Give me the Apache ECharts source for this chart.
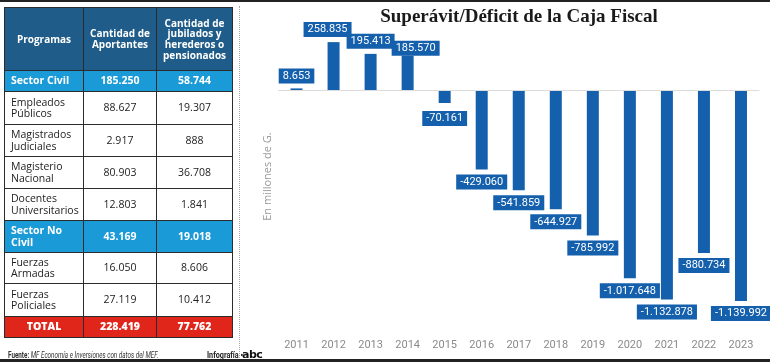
<!DOCTYPE html>
<html>
<head>
<meta charset="utf-8">
<script src="https://cdn.jsdelivr.net/npm/echarts@6/dist/echarts.min.js"></script>
<style>
  html, body { margin:0; padding:0; background:#fff; }
  #wrap { position:relative; width:770px; height:362px; overflow:hidden; background:#fff; }
  #chart { position:absolute; left:0; top:0; width:770px; height:362px; }
  .topline { position:absolute; left:0; top:0; width:770px; height:2px; background:#222; }
  .botline { position:absolute; left:0; top:359px; width:770px; height:3px; background:#222; }
  .vsep { position:absolute; left:239px; top:6px; height:352px; border-left:1px dotted #a8a8a8; }
  table { position:absolute; left:4px; top:7px; border-collapse:collapse; width:228px;
          font-family:"Open Sans", "Liberation Sans", sans-serif; font-size:10.5px; color:#222; table-layout:fixed; }
  td { border:1.5px solid #2b2b2b; padding:0 6px; line-height:11.5px; text-align:center; font-weight:500; }
  td.l { text-align:left; }
  tr.hd td { background:#1f5c89; color:#fff; font-weight:700; height:62px; line-height:10.7px; font-size:10px; padding:0 4px; }
  tr.sec td { background:#1b9ad8; color:#fff; font-weight:700; font-size:10.5px; }
  tr.tot td { background:#e0261b; color:#fff; font-weight:800; font-size:10.5px; }
  .foot { position:absolute; left:8px; top:350px; font-family:Roboto, "Liberation Sans", sans-serif; font-size:9px; color:#333;
          transform:scaleX(0.7); transform-origin:left; white-space:nowrap; }
  .foot b { font-weight:700; }
  .foot i { font-style:italic; }
  .info { position:absolute; left:207px; top:350px; font-family:Roboto, "Liberation Sans", sans-serif; font-size:9px; font-weight:700; color:#222;
          transform:scaleX(0.8); transform-origin:left; white-space:nowrap; }
  .logo { position:absolute; left:242px; top:348px; font-family:"DejaVu Sans", sans-serif; font-size:11px; font-weight:900; color:#111; letter-spacing:-0.5px; }
</style>
</head>
<body>
<div id="wrap">
  <div id="chart"></div>
  <div class="topline"></div>
  <div class="botline"></div>
  <div class="vsep"></div>
  <table id="tbl"></table>
  <div class="foot"><b>Fuente:</b> <i>MF Economía e Inversiones con datos del MEF.</i></div>
  <div class="info">Infografía •</div>
  <div class="logo">abc</div>
</div>
<script>
// ---- Table data ----
const tableHeaders = ["Programas", "Cantidad de<br>Aportantes", "Cantidad de<br>jubilados y<br>herederos o<br>pensionados"];
const tablePrograms = ["Sector Civil", "Empleados<br>Públicos", "Magistrados<br>Judiciales", "Magisterio<br>Nacional", "Docentes<br>Universitarios", "Sector No<br>Civil", "Fuerzas<br>Armadas", "Fuerzas<br>Policiales", "TOTAL"];
const tableAportantes = ["185.250", "88.627", "2.917", "80.903", "12.803", "43.169", "16.050", "27.119", "228.419"];
const tableJubilados = ["58.744", "19.307", "888", "36.708", "1.841", "19.018", "8.606", "10.412", "77.762"];
const tableRowKinds = ["sec", "", "", "", "", "sec", "", "", "tot"];

// ---- Chart data ----
const years = ["2011","2012","2013","2014","2015","2016","2017","2018","2019","2020","2021","2022","2023"];
const balance = [8653, 258835, 195413, 185570, -70161, -429060, -541859, -644927, -785992, -1017648, -1132878, -880734, -1139992];

// build table
(function(){
  const rowHeights = [21, 33, 32, 32, 32, 32, 31, 33, 21];
  const colW = [79, 73, 76];
  let html = '<colgroup>' + colW.map(w => '<col style="width:' + w + 'px">').join('') + '</colgroup>';
  html += '<tr class="hd">' + tableHeaders.map(h => '<td>' + h + '</td>').join('') + '</tr>';
  tablePrograms.forEach((p, i) => {
    const k = tableRowKinds[i];
    html += '<tr class="' + k + '" style="height:' + rowHeights[i] + 'px">' +
      '<td class="' + (k === 'tot' ? '' : 'l') + '">' + p + '</td>' +
      '<td>' + tableAportantes[i] + '</td><td>' + tableJubilados[i] + '</td></tr>';
  });
  document.getElementById('tbl').innerHTML = html;
})();

function fmt(v) {
  const s = Math.abs(v).toString().replace(/\B(?=(\d{3})+(?!\d))/g, '.');
  return (v < 0 ? '-' : '') + s;
}

const nudges = { "2012": [-6, 0], "2014": [8, 5], "2015": [0, 3] };

const chart = echarts.init(document.getElementById('chart'), null, { renderer: 'canvas' });
const barColor = '#1560ad';
const labelFont = "'Liberation Sans Narrow', Roboto, 'Liberation Sans', sans-serif";

chart.setOption({
  animation: false,
  title: {
    text: 'Superávit/Déficit de la Caja Fiscal',
    left: 514, textAlign: 'center', top: 3,
    textStyle: { fontFamily: "'Liberation Serif', serif", fontWeight: 'bold', fontSize: 19, color: '#1a1a1a' }
  },
  grid: { left: 278, right: 10.5, top: 16, bottom: 25, containLabel: false },
  xAxis: {
    type: 'category', data: years,
    axisLine: { show: false }, axisTick: { show: false },
    axisLabel: { color: '#8a8a8a', fontSize: 11, margin: 3, fontFamily: labelFont }
  },
  yAxis: {
    type: 'value', min: -1335000, max: 400000,
    axisLabel: { show: false }, axisLine: { show: false }, axisTick: { show: false }, splitLine: { show: false },
    name: 'En millones de G.', nameLocation: 'middle', nameGap: 5,
    nameTextStyle: { color: '#9a9a9a', fontSize: 11, fontFamily: "'Open Sans', sans-serif" }
  },
  series: [{
    type: 'bar', barWidth: 12,
    itemStyle: { color: barColor },
    data: balance.map((v, i) => ({
      value: v,
      label: { position: v >= 0 ? 'top' : 'bottom', offset: nudges[years[i]] || [0, 0] }
    })),
    label: {
      show: true, distance: 5, formatter: p => fmt(p.value),
      color: '#fff', backgroundColor: barColor, padding: [2, 4], fontSize: 11, fontFamily: labelFont
    },
    markLine: {
      silent: true, symbol: 'none', label: { show: false },
      lineStyle: { color: '#dcdcdc', type: 'solid', width: 1 },
      data: [{ yAxis: 0 }]
    },
    z: 3
  }]
});
</script>
</body>
</html>
